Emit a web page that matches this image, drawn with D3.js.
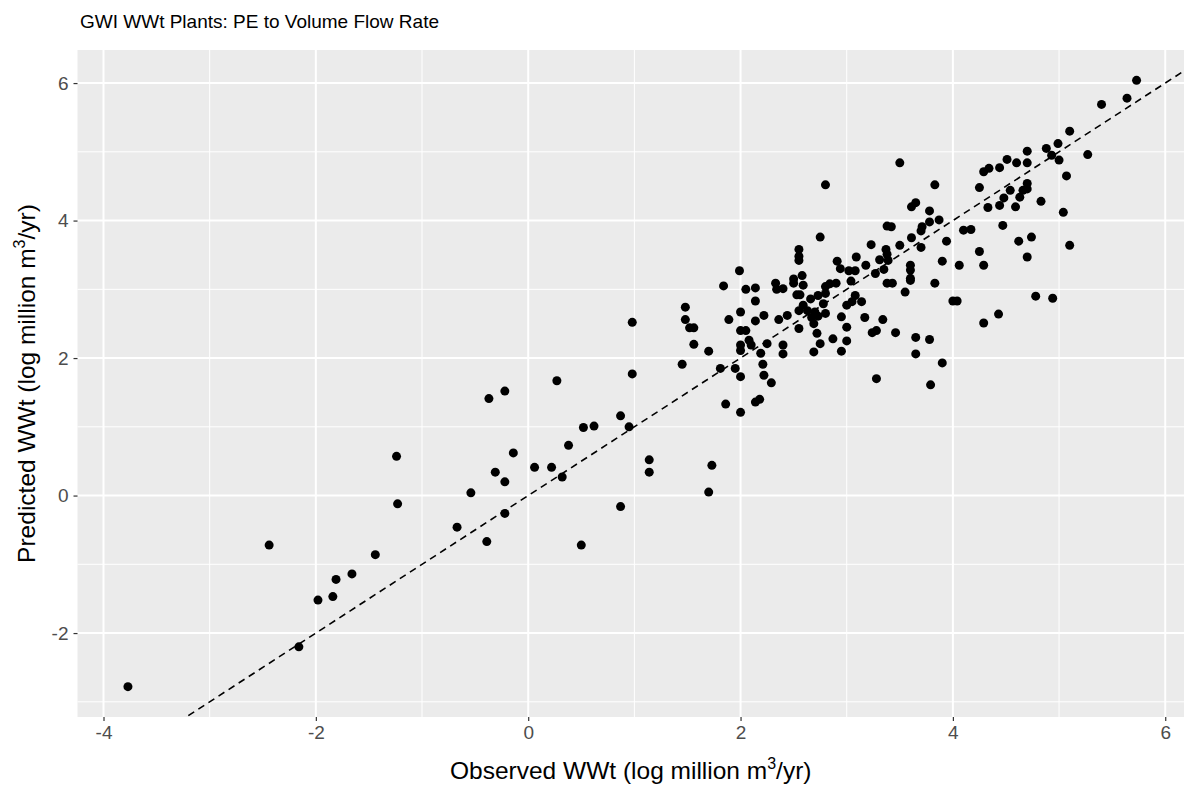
<!DOCTYPE html>
<html>
<head>
<meta charset="utf-8">
<script src="https://cdn.jsdelivr.net/npm/d3@7"></script>
<style>
  body { margin: 0; background: #ffffff; }
  svg { display: block; font-family: "Liberation Sans", Arial, sans-serif; }
</style>
</head>
<body>
<svg id="chart" width="1184" height="785"></svg>
<script>
// Observed vs predicted WWt (log million m3/yr).
const observed = [
  -3.77, -2.44, -2.16, -1.98, -1.84, -1.81, -1.66, -1.44, -1.24, -1.23, -0.67, -0.54,
  -0.39, -0.31, -0.22, -0.22, -0.14, 0.06, 0.22, 0.32, 0.38, 0.50, 0.52, 0.62,
  0.87, 0.95, 1.14, 1.14, 0.98, 0.98, 0.27, -0.22, -0.37, 0.87, 1.70, 1.73,
  1.84, 2.05, 2.14, 2.14, 2.33, 2.34, 2.40, 2.50, 2.59, 2.53, 2.56, 2.80,
  2.84, 2.90, 2.80, 2.73, 2.66, 2.78, 2.59, 3.00, 2.55, 2.63, 2.70, 2.80,
  2.73, 2.67, 2.95, 3.00, 2.55, 2.69, 2.72, 2.75, 2.87, 2.95, 2.69, 3.00,
  2.36, 2.44, 2.22, 2.14, 1.89, 2.00, 2.00, 2.05, 2.08, 2.00, 2.00, 2.10,
  2.19, 2.25, 2.40, 2.40, 1.70, 1.81, 1.95, 2.00, 2.21, 2.22, 2.29, 1.86,
  2.00, 2.14, 2.18, 1.48, 1.48, 1.52, 1.56, 1.56, 1.45,
  3.04, 3.38, 3.43, 3.60, 3.83, 3.55, 3.08, 3.05, 3.14, 3.17, 3.34, 3.24,
  3.28, 3.46, 3.65, 3.78, 3.65, 3.90, 3.28, 3.79, 4.00, 4.04, 4.29, 4.43,
  2.80, 2.75, 2.55, 2.55, 2.55, 2.91, 2.94, 3.02, 1.99, 2.58, 2.50,
  3.50, 3.83, 3.61, 3.65, 3.78, 3.78, 3.87, 3.71, 3.70, 3.38, 3.42, 3.61,
  3.94, 3.70, 3.50, 3.23, 3.37, 3.38, 3.31, 3.39, 3.09, 3.18, 3.08, 3.27,
  3.35, 3.60, 3.60, 3.60, 3.90, 4.06, 4.25, 4.29, 4.10, 4.17, 4.25, 4.29,
  4.34, 4.44, 4.51, 4.33, 4.44, 4.48, 4.47, 4.54,
  5.73, 5.64, 5.40, 5.10, 4.99, 4.88, 4.93, 5.00, 5.27, 5.07, 4.70, 4.70,
  4.60, 4.70, 4.70, 4.66, 4.63, 4.83, 4.59, 5.04, 4.62, 4.74, 4.70, 5.10,
  4.78, 4.94
];
const predicted = [
  -2.78, -0.72, -2.20, -1.52, -1.47, -1.22, -1.14, -0.86, 0.57, -0.12, -0.46, 0.04,
  -0.67, 0.34, 0.20, -0.26, 0.62, 0.41, 0.41, 0.27, 0.73, -0.72, 0.99, 1.01,
  -0.16, 1.00, 0.52, 0.34, 2.52, 1.77, 1.67, 1.52, 1.41, 1.16, 0.05, 0.44,
  3.05, 3.00, 3.02, 2.83, 3.09, 3.00, 3.01, 3.09, 3.06, 2.92, 2.92, 3.04,
  3.08, 3.09, 2.94, 2.91, 2.86, 2.79, 2.77, 2.77, 2.69, 2.69, 2.67, 2.65,
  2.61, 2.59, 2.60, 2.45, 2.43, 2.50, 2.36, 2.21, 2.28, 2.10, 2.09, 2.25,
  2.56, 2.62, 2.62, 2.54, 2.56, 2.67, 2.40, 2.40, 2.26, 2.19, 2.11, 2.19,
  2.07, 2.21, 2.19, 2.06, 2.10, 1.85, 1.85, 1.73, 1.91, 1.75, 1.64, 1.33,
  1.21, 1.36, 1.40, 2.74, 2.56, 2.44, 2.44, 2.20, 1.91,
  3.12, 3.09, 3.09, 3.13, 3.09, 2.96, 2.91, 2.82, 2.82, 2.59, 2.56, 2.37,
  2.40, 2.37, 2.30, 2.27, 2.06, 1.93, 1.70, 1.61, 2.83, 2.83, 2.51, 2.64,
  4.52, 3.76, 3.58, 3.48, 3.42, 3.41, 3.30, 3.27, 3.27, 3.20, 3.15,
  4.84, 4.52, 4.20, 4.26, 4.14, 3.98, 4.01, 3.91, 3.85, 3.92, 3.91, 3.75,
  3.70, 3.61, 3.64, 3.65, 3.58, 3.51, 3.43, 3.42, 3.47, 3.35, 3.27, 3.23,
  3.29, 3.35, 3.28, 3.16, 3.41, 3.35, 3.55, 3.35, 3.86, 3.87, 4.48, 4.71,
  4.76, 4.77, 4.89, 4.19, 4.22, 4.33, 3.93, 4.44,
  6.04, 5.78, 5.69, 5.30, 5.12, 5.05, 4.95, 4.88, 4.96, 4.65, 5.01, 4.84,
  4.84, 4.54, 4.46, 4.44, 4.34, 4.28, 4.20, 4.12, 3.70, 3.76, 3.47, 3.64,
  2.90, 2.87
];
// 1:1 reference line (intercept, slope).
const refLine = [0, 1];
const xBreaks = [-4, -2, 0, 2, 4, 6];
const xMinor = [-3, -1, 1, 3, 5];
const yBreaks = [-2, 0, 2, 4, 6];
const yMinor = [-3, -1, 1, 3, 5];
const titleText = "GWI WWt Plants: PE to Volume Flow Rate";

const points = observed.map((d, i) => ({ x: d, y: predicted[i] }));

const svg = d3.select("#chart");
const panel = { left: 77.5, right: 1187, top: 50, bottom: 717 };

// Expand the data range by 5% on each side, like ggplot does.
function expand(ext) {
  const pad = (ext[1] - ext[0]) * 0.05;
  return [ext[0] - pad, ext[1] + pad];
}
const x = d3.scaleLinear()
  .domain(expand(d3.extent(observed)))
  .range([panel.left, panel.right]);
const y = d3.scaleLinear()
  .domain(expand(d3.extent(predicted)))
  .range([panel.bottom, panel.top]);

// Grey panel background.
svg.append("rect")
  .attr("x", panel.left)
  .attr("y", panel.top)
  .attr("width", panel.right - panel.left)
  .attr("height", panel.bottom - panel.top)
  .attr("fill", "#EBEBEB");

// Minor and major grid lines.
const grid = svg.append("g");
grid.selectAll(".xminor").data(xMinor).join("line")
  .attr("x1", d => x(d)).attr("x2", d => x(d))
  .attr("y1", panel.top).attr("y2", panel.bottom)
  .attr("stroke", "#ffffff").attr("stroke-width", 1);
grid.selectAll(".yminor").data(yMinor).join("line")
  .attr("y1", d => y(d)).attr("y2", d => y(d))
  .attr("x1", panel.left).attr("x2", panel.right)
  .attr("stroke", "#ffffff").attr("stroke-width", 1);
grid.selectAll(".xmajor").data(xBreaks).join("line")
  .attr("x1", d => x(d)).attr("x2", d => x(d))
  .attr("y1", panel.top).attr("y2", panel.bottom)
  .attr("stroke", "#ffffff").attr("stroke-width", 2);
grid.selectAll(".ymajor").data(yBreaks).join("line")
  .attr("y1", d => y(d)).attr("y2", d => y(d))
  .attr("x1", panel.left).attr("x2", panel.right)
  .attr("stroke", "#ffffff").attr("stroke-width", 2);

// Clip the marks to the panel.
svg.append("clipPath").attr("id", "clip")
  .append("rect")
  .attr("x", panel.left).attr("y", panel.top)
  .attr("width", panel.right - panel.left)
  .attr("height", panel.bottom - panel.top);

// Points.
svg.append("g")
  .attr("clip-path", "url(#clip)")
  .selectAll("circle")
  .data(points)
  .join("circle")
  .attr("cx", d => x(d.x))
  .attr("cy", d => y(d.y))
  .attr("r", 4.5)
  .attr("fill", "#000000");

// Dashed 1:1 line.
const lineX = x.domain();
svg.append("path")
  .attr("clip-path", "url(#clip)")
  .datum(lineX.map(v => [v, refLine[0] + refLine[1] * v]))
  .attr("d", d3.line().x(d => x(d[0])).y(d => y(d[1])))
  .attr("fill", "none")
  .attr("stroke", "#000000")
  .attr("stroke-width", 1.6)
  .attr("stroke-dasharray", "7,5");

// Axes.
const xAxis = svg.append("g")
  .attr("transform", `translate(0,${panel.bottom})`)
  .call(d3.axisBottom(x).tickValues(xBreaks).tickSize(4).tickPadding(5).tickFormat(d => String(d)));
const yAxis = svg.append("g")
  .attr("transform", `translate(${panel.left},0)`)
  .call(d3.axisLeft(y).tickValues(yBreaks).tickSize(4).tickPadding(5).tickFormat(d => String(d)));
[xAxis, yAxis].forEach(a => {
  a.select(".domain").remove();
  a.selectAll(".tick line").attr("stroke", "#333333").attr("stroke-width", 1.2);
  a.selectAll(".tick text")
    .attr("fill", "#4D4D4D")
    .style("font-size", "19px")
    .style("font-family", "'Liberation Sans', Arial, sans-serif");
});

// Title.
svg.append("text")
  .attr("x", 80)
  .attr("y", 28)
  .attr("font-size", "19px")
  .attr("fill", "#000000")
  .text(titleText);

// Axis titles with superscript 3.
function axisTitle(g, label) {
  const t = g.append("text")
    .attr("text-anchor", "middle")
    .attr("font-size", "24.5px")
    .attr("fill", "#000000");
  t.append("tspan").text(label + " (log million m");
  t.append("tspan").attr("font-size", "16px").attr("dy", "-10").text("3");
  t.append("tspan").attr("dy", "10").text("/yr)");
  return t;
}
axisTitle(svg.append("g").attr("transform", `translate(${(panel.left + 1184) / 2},779)`), "Observed WWt");
axisTitle(svg.append("g").attr("transform", `translate(35,${(panel.top + panel.bottom) / 2}) rotate(-90)`), "Predicted WWt");
</script>
</body>
</html>
